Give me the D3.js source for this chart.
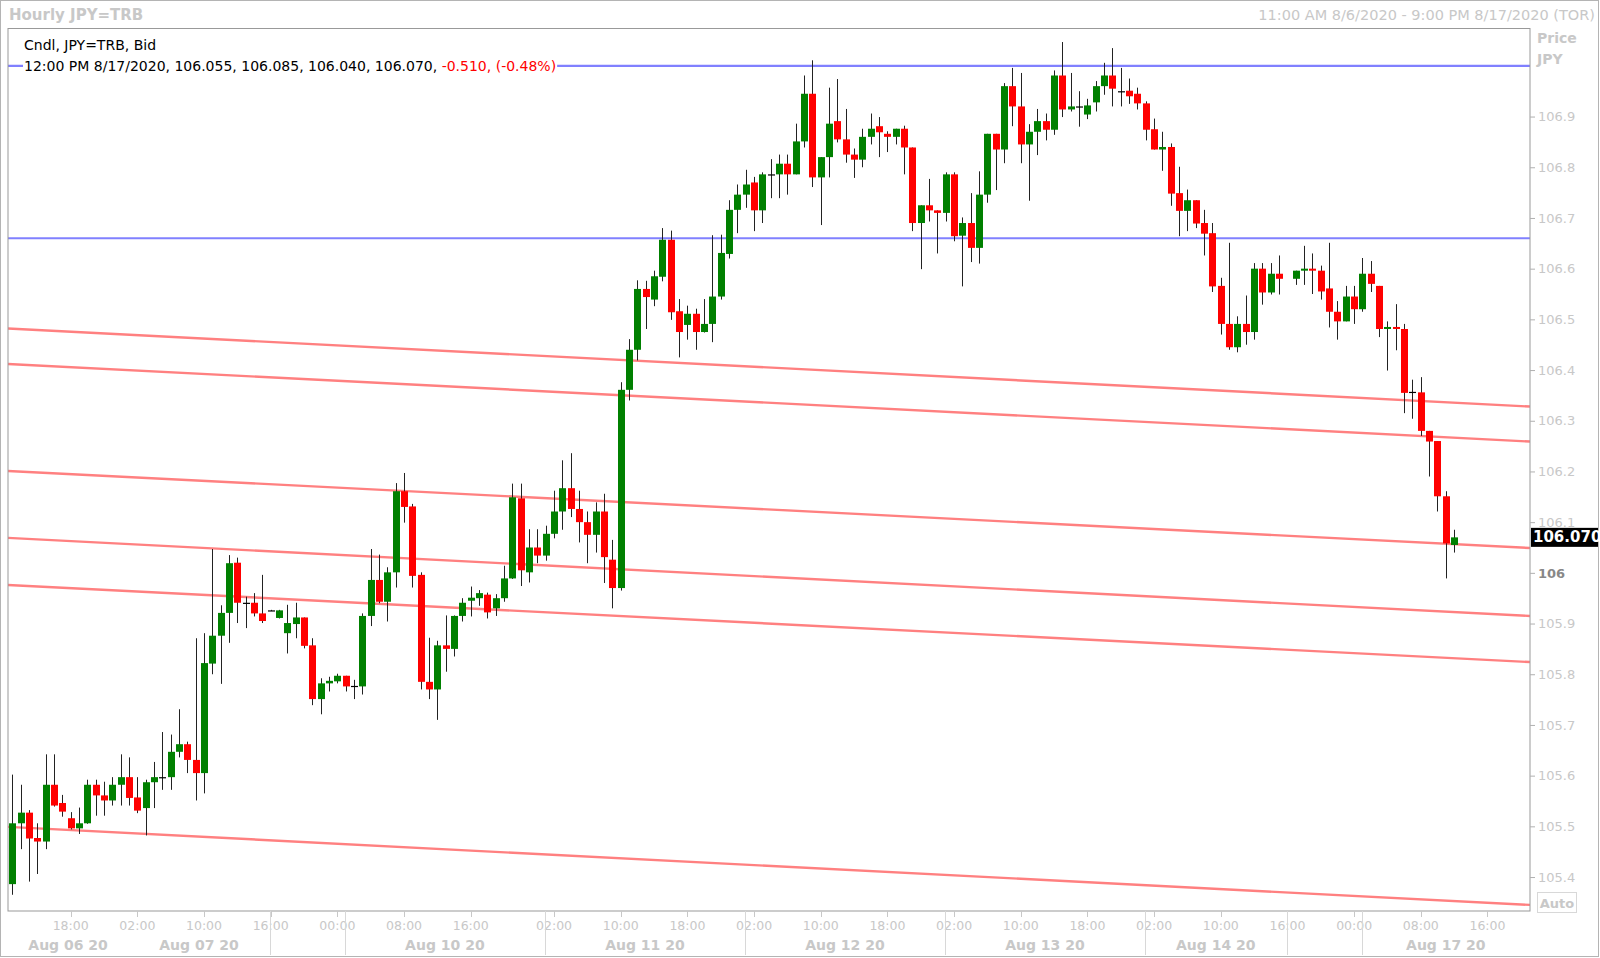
<!DOCTYPE html>
<html><head><meta charset="utf-8">
<script src="https://cdn.jsdelivr.net/npm/d3@7"></script>
<style>
body{margin:0;background:#fff;}
svg{display:block;}
text{font-family:"DejaVu Sans",sans-serif;}
</style>
</head><body>
<svg id="c" width="1600" height="958"></svg>
<script>
// ---- data (hourly candles, index 0 = 11:00 AM 8/6/2020) ----
const openP = [105.386,105.506,105.527,105.477,105.470,105.582,105.546,105.516,105.496,105.506,
105.582,105.561,105.551,105.582,105.597,105.557,105.536,105.587,105.597,105.597,
105.647,105.662,105.631,105.605,105.821,105.876,105.921,106.020,105.941,105.941,
105.920,105.926,105.911,105.881,105.899,105.912,105.857,105.751,105.782,105.786,
105.797,105.777,105.776,105.915,105.986,105.943,106.001,106.161,106.131,105.996,
105.785,105.770,105.857,105.850,105.915,105.945,105.950,105.957,105.930,105.950,
105.989,106.147,106.001,106.050,106.034,106.077,106.121,106.167,106.126,106.100,
106.075,106.121,106.026,105.970,106.361,106.440,106.560,106.539,106.584,106.657,
106.516,106.489,106.511,106.475,106.491,106.545,106.629,106.716,106.746,106.770,
106.715,106.786,106.786,106.807,106.786,106.851,106.945,106.780,106.820,106.891,
106.855,106.825,106.815,106.860,106.881,106.866,106.860,106.876,106.839,106.690,
106.725,106.715,106.710,106.786,106.665,106.690,106.641,106.746,106.866,106.835,
106.960,106.920,106.845,106.870,106.891,106.874,106.981,106.914,106.920,106.904,
106.928,106.960,106.981,106.950,106.951,106.945,106.926,106.875,106.835,106.840,
106.749,106.714,106.735,106.690,106.670,106.566,106.491,106.445,106.491,106.475,
106.600,106.553,106.590,null,106.580,106.596,106.600,106.596,106.561,106.515,
106.496,106.545,106.520,106.590,106.566,106.481,106.485,106.481,106.357,106.356,
106.280,106.260,106.151,106.055];
const highP = [105.602,105.582,105.532,105.506,105.642,105.642,105.562,105.528,105.537,105.592,
105.592,105.588,105.597,105.642,105.636,105.597,105.592,105.627,105.686,105.681,
105.731,105.667,105.871,105.881,106.047,105.936,106.035,106.030,105.953,105.960,
105.996,105.927,105.927,105.937,105.941,105.912,105.871,105.792,105.795,105.801,
105.797,105.789,105.920,106.047,106.036,106.011,106.177,106.197,106.136,106.001,
105.872,105.866,105.916,105.916,105.950,105.973,105.966,105.961,105.958,106.014,
106.176,106.176,106.086,106.086,106.093,106.162,106.222,106.236,106.162,106.121,
106.139,106.156,106.065,106.376,106.461,106.577,106.576,106.596,106.680,106.675,
106.540,106.527,106.521,106.540,106.666,106.667,106.735,106.766,106.795,106.781,
106.790,106.816,106.825,106.825,106.886,106.981,107.011,106.820,106.957,106.974,
106.915,106.837,106.876,106.906,106.899,106.871,106.876,106.882,106.839,106.725,
106.777,106.715,106.790,106.790,106.701,106.749,106.792,106.866,106.866,106.966,
106.996,106.986,106.885,106.915,106.906,106.991,107.047,106.986,106.950,106.935,
106.970,107.006,107.035,106.996,106.975,106.957,106.930,106.896,106.870,106.847,
106.801,106.756,106.735,106.716,106.690,106.582,106.651,106.506,106.547,106.611,
106.611,106.611,106.626,null,106.596,106.645,106.630,106.606,106.651,106.536,
106.566,106.566,106.621,106.615,106.566,106.496,106.530,106.491,106.381,106.386,
106.280,106.260,106.161,106.085];
const lowP = [105.365,105.455,105.391,105.406,105.455,105.539,105.519,105.494,105.485,105.505,
105.521,105.521,105.541,105.541,105.541,105.526,105.482,105.536,105.572,105.572,
105.636,105.605,105.551,105.565,105.800,105.781,105.862,105.901,105.891,105.914,
105.901,105.925,105.910,105.841,105.871,105.851,105.739,105.721,105.766,105.782,
105.766,105.751,105.760,105.895,105.940,105.904,105.971,106.099,105.971,105.770,
105.751,105.710,105.805,105.835,105.904,105.914,105.935,105.910,105.915,105.943,
105.988,105.974,105.981,106.019,106.024,106.068,106.085,106.110,106.060,106.019,
106.040,105.980,105.930,105.965,106.340,106.419,106.481,106.526,106.575,106.499,
106.425,106.460,106.440,106.474,106.455,106.539,106.620,106.670,106.720,106.674,
106.690,106.739,106.739,106.746,106.786,106.839,106.761,106.686,106.780,106.849,
106.809,106.779,106.800,106.845,106.820,106.830,106.845,106.786,106.674,106.599,
106.693,106.630,106.693,106.654,106.565,106.613,106.610,106.730,106.755,106.808,
106.881,106.808,106.734,106.824,106.853,106.864,106.899,106.910,106.880,106.895,
106.910,106.943,106.920,106.920,106.925,106.914,106.853,106.835,106.793,106.724,
106.664,106.674,106.680,106.626,106.554,106.470,106.440,106.435,106.450,106.460,
106.529,106.549,106.549,null,106.568,106.568,106.550,106.539,106.484,106.460,
106.496,106.491,106.515,106.554,106.465,106.399,106.439,106.315,106.304,106.270,
106.190,106.121,105.989,106.040];
const closeP = [105.506,105.527,105.476,105.470,105.582,105.541,105.529,105.496,105.506,105.582,
105.561,105.551,105.582,105.597,105.556,105.531,105.587,105.597,105.597,105.647,
105.662,105.631,105.605,105.822,105.876,105.921,106.019,105.941,105.941,105.920,
105.905,105.926,105.926,105.901,105.912,105.856,105.751,105.782,105.787,105.797,
105.776,105.777,105.915,105.986,105.943,106.001,106.161,106.130,105.994,105.785,
105.770,105.857,105.850,105.915,105.941,105.951,105.960,105.922,105.950,105.989,
106.149,106.005,106.050,106.034,106.077,106.121,106.167,106.126,106.100,106.075,
106.121,106.031,105.970,106.361,106.440,106.560,106.544,106.585,106.657,106.514,
106.475,106.511,106.475,106.491,106.545,106.631,106.716,106.746,106.766,106.715,
106.786,106.786,106.807,106.786,106.851,106.945,106.780,106.820,106.886,106.855,
106.825,106.815,106.860,106.876,106.869,106.860,106.876,106.839,106.690,106.725,
106.715,106.710,106.786,106.664,106.690,106.641,106.746,106.866,106.835,106.960,
106.920,106.845,106.870,106.891,106.874,106.981,106.914,106.920,106.920,106.922,
106.960,106.981,106.955,106.950,106.940,106.926,106.874,106.835,106.840,106.748,
106.714,106.735,106.689,106.669,106.565,106.491,106.445,106.491,106.475,106.600,
106.553,106.590,106.580,null,106.596,106.600,106.596,106.555,106.515,106.496,
106.545,106.520,106.590,106.570,106.481,106.485,106.481,106.355,106.357,106.280,
106.259,106.151,106.058,106.070];

// horizontal levels (blue) and sloping channel lines (red): price at left / right edge
const blueLevels = [107.000, 106.660];
const redLeft  = [106.482, 106.412, 106.201, 106.069, 105.976, 105.499];
const redRight = [106.328, 106.259, 106.049, 105.915, 105.824, 105.345];

// price axis
const priceTicks = [105.4,105.5,105.6,105.7,105.8,105.9,106.0,106.1,106.2,106.3,106.4,106.5,106.6,106.7,106.8,106.9];
// time axis (positions are candle slots)
const timeTickSlots  = [7,15,23,31,39,47,55,65,73,81,89,97,105,113,121,129,137,145,153,161,169,177];
const timeTickLabels = ["18:00","02:00","10:00","16:00","00:00","08:00","16:00","02:00","10:00","18:00","02:00","10:00","18:00","02:00","10:00","18:00","02:00","10:00","16:00","00:00","08:00","16:00"];
const dayBounds = [-0.52, 13.9, 30.9, 39.9, 63.9, 87.9, 111.9, 135.9, 152.9, 161.9, 182.1];
const dayLabels = ["Aug 06 20","Aug 07 20","","Aug 10 20","Aug 11 20","Aug 12 20","Aug 13 20","Aug 14 20","","Aug 17 20"];
const drawnSeparators = [30.9, 39.9, 63.9, 87.9, 111.9, 135.9, 152.9, 161.9];
const lastPrice = 106.070;

// ---- drawing ----
const svg = d3.select("#c");
const L = 8, R = 1530, T = 28.5, B = 911;
const x = d3.scaleLinear().domain([-0.52, 182.1]).range([L, R]);
const y = d3.scaleLinear().domain([105.333, 107.0737]).range([B, T]);

svg.append("rect").attr("x",0.5).attr("y",0.5).attr("width",1598).attr("height",956)
  .attr("fill","#fff").attr("stroke","#b4b4b4");

// header
svg.append("text").attr("x",9).attr("y",15).attr("dominant-baseline","central")
  .attr("font-size",15).attr("font-weight","bold").attr("fill","#c8c8c8").text("Hourly JPY=TRB");
svg.append("text").attr("x",1595).attr("y",15).attr("dominant-baseline","central").attr("text-anchor","end")
  .attr("font-size",14.5).attr("fill","#c8c8c8").text("11:00 AM 8/6/2020 - 9:00 PM 8/17/2020 (TOR)");

svg.append("defs").append("clipPath").attr("id","clip")
  .append("rect").attr("x",L).attr("y",T).attr("width",R-L).attr("height",B-T);

const plot = svg.append("g").attr("clip-path","url(#clip)");

// channel lines
plot.selectAll("line.red").data(redLeft).join("line")
  .attr("x1",x(-0.52)).attr("x2",x(182.1))
  .attr("y1",d=>y(d)).attr("y2",(d,i)=>y(redRight[i]))
  .attr("stroke","#ff8080").attr("stroke-width",2.4);
plot.selectAll("line.blue").data(blueLevels).join("line")
  .attr("x1",L).attr("x2",R).attr("y1",d=>y(d)).attr("y2",d=>y(d))
  .attr("stroke","#8080ff").attr("stroke-width",2.2);

// candles
const candles = openP.map((o,i)=>({i,o,h:highP[i],l:lowP[i],c:closeP[i]})).filter(d=>d.o!==null);
const bw = 7;
const cg = plot.append("g");
cg.selectAll("line.wick").data(candles).join("line")
  .attr("x1",d=>Math.round(x(d.i))+0.5).attr("x2",d=>Math.round(x(d.i))+0.5)
  .attr("y1",d=>y(d.h)).attr("y2",d=>y(d.l))
  .attr("stroke","#222").attr("stroke-width",1);
cg.selectAll("rect.body").data(candles).join("rect")
  .attr("x",d=>Math.round(x(d.i))-3).attr("width",bw)
  .attr("y",d=>y(Math.max(d.o,d.c)))
  .attr("height",d=>Math.max(1.2, Math.abs(y(d.o)-y(d.c))))
  .attr("fill",d=>d.c>d.o?"#008000":(d.c<d.o?"#ff0000":"#000"));

// plot border
svg.append("rect").attr("x",L).attr("y",T).attr("width",R-L).attr("height",B-T)
  .attr("fill","none").attr("stroke","#999");

// legend
svg.append("text").attr("x",24).attr("y",45).attr("dominant-baseline","central")
  .attr("font-size",14).attr("fill","#000").text("Cndl, JPY=TRB, Bid");
const lg = svg.append("text").attr("x",24).attr("y",66).attr("dominant-baseline","central").attr("font-size",14);
lg.append("tspan").attr("fill","#000").text("12:00 PM 8/17/2020, 106.055, 106.085, 106.040, 106.070, ");
lg.append("tspan").attr("fill","#ff0000").text("-0.510, (-0.48%)");
const bb = lg.node().getBBox();
svg.insert("rect", "text:last-of-type").attr("x",bb.x-1).attr("y",bb.y+1).attr("width",bb.width+2).attr("height",bb.height-2).attr("fill","#fff");
lg.raise();

// price axis
const ya = svg.append("g").attr("transform",`translate(${R},0)`)
  .call(d3.axisRight(y).tickValues(priceTicks).tickSize(5).tickPadding(3)
    .tickFormat(d=>Math.abs(d-106)<1e-9?"106":d3.format(".1f")(d)));
ya.select(".domain").remove();
ya.selectAll(".tick line").attr("stroke","#b0b0b0");
ya.selectAll(".tick text").attr("font-family","DejaVu Sans").attr("font-size",13)
  .attr("fill",d=>Math.abs(d-106)<1e-9?"#888":"#c8c8c8")
  .attr("font-weight",d=>Math.abs(d-106)<1e-9?"bold":"normal");

svg.append("text").attr("x",1537).attr("y",38).attr("dominant-baseline","central")
  .attr("font-size",14).attr("font-weight","bold").attr("fill","#c8c8c8").text("Price");
svg.append("text").attr("x",1537).attr("y",59).attr("dominant-baseline","central")
  .attr("font-size",14).attr("font-weight","bold").attr("fill","#c8c8c8").text("JPY");

// last price marker
svg.append("rect").attr("x",R+1).attr("y",y(lastPrice)-9.5).attr("width",67).attr("height",19).attr("fill","#000");
svg.append("text").attr("x",R+3).attr("y",y(lastPrice)).attr("dominant-baseline","central")
  .attr("font-size",15).attr("font-weight","bold").attr("fill","#fff").text(d3.format(".3f")(lastPrice));

// Auto box
svg.append("rect").attr("x",1537.5).attr("y",892.5).attr("width",39).attr("height",20)
  .attr("fill","#fff").attr("stroke","#d8d8d8");
svg.append("text").attr("x",1557).attr("y",903).attr("dominant-baseline","central").attr("text-anchor","middle")
  .attr("font-size",13).attr("font-weight","bold").attr("fill","#c8c8c8").text("Auto");

// time axis
const xa = svg.append("g");
xa.selectAll("line.tt").data(timeTickSlots).join("line")
  .attr("x1",d=>Math.round(x(d))+0.5).attr("x2",d=>Math.round(x(d))+0.5).attr("y1",B).attr("y2",B+6)
  .attr("stroke","#c8c8c8");
xa.selectAll("text.tt").data(timeTickSlots).join("text")
  .attr("x",d=>x(d)).attr("y",925).attr("dominant-baseline","central").attr("text-anchor","middle")
  .attr("font-size",12.5).attr("fill","#c8c8c8").text((d,i)=>timeTickLabels[i]);
xa.selectAll("line.sep").data(drawnSeparators).join("line")
  .attr("x1",d=>Math.round(x(d))+0.5).attr("x2",d=>Math.round(x(d))+0.5).attr("y1",B).attr("y2",955)
  .attr("stroke","#d8d8d8");
xa.selectAll("text.day").data(dayLabels).join("text")
  .attr("x",(d,i)=>x((dayBounds[i]+dayBounds[i+1])/2)).attr("y",945)
  .attr("dominant-baseline","central").attr("text-anchor","middle")
  .attr("font-size",14).attr("font-weight","bold").attr("fill","#c8c8c8").text(d=>d);
</script>
</body></html>
